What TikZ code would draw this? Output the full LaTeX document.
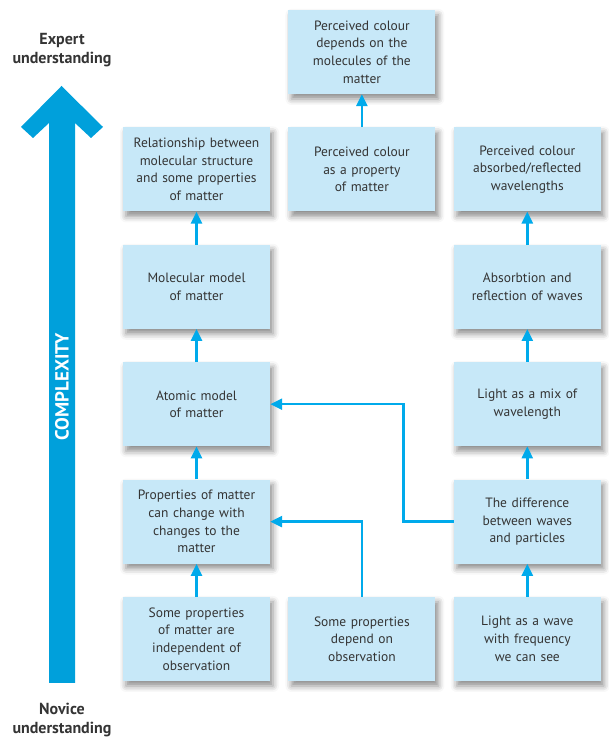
\documentclass[tikz,border=0pt]{standalone}
\usepackage{fontspec}
\setmainfont{PT Sans}
\usepackage{xcolor}
\usepackage{tikz}
\usetikzlibrary{positioning, arrows.meta, shadows.blur}
\definecolor{boxblue}{RGB}{199,232,248}
\definecolor{linkblue}{RGB}{0,170,235}
\definecolor{bigblue}{RGB}{0,160,219}
\definecolor{txtgray}{RGB}{52,52,52}
\tikzstyle{conceptbox} = [rectangle, minimum width=147pt, minimum height=84pt, text width=139pt, inner sep=4pt, align=center, fill=boxblue, text=txtgray, font=\fontsize{13.5}{17.7}\selectfont, blur shadow={shadow xshift=3pt, shadow yshift=-5pt, shadow blur radius=6pt, shadow opacity=45}]
\tikzstyle{endlabel} = [align=center, text=txtgray, font=\fontsize{16}{19}\selectfont\bfseries]
\tikzstyle{arrow} = [line width=2.5pt, draw=linkblue, -{Triangle[length=12pt,width=11pt]}]

\begin{document}
\begin{tikzpicture}[x=1pt, y=1pt, node distance=33pt and 18pt]
		\useasboundingbox (0,0) rectangle (608,738);
		% complexity arrow on the left
		\fill [bigblue] (61.5,652) -- (103,611) -- (91,600) -- (75,615) -- (75,55) -- (49,55) -- (49,615) -- (33,600) -- (21,611) -- cycle;
		\node (cplx) [rotate=90, text=white, font=\fontsize{19}{19}\selectfont\bfseries] at (62,351) {COMPLEXITY};
		\node (expert) [endlabel] at (62,688) {Expert\\understanding};
		\node (novice) [endlabel] at (62,18) {Novice\\understanding};
		% concept boxes
		\node (indep) [conceptbox] at (196.5,99) {Some properties\\of matter are\\independent of\\observation};
		\node (obs) [conceptbox, right=of indep] {Some properties\\depend on\\observation};
		\node (wave) [conceptbox, right=of obs] {Light as a wave\\with frequency\\we can see};
		\node (props) [conceptbox, above=of indep] {Properties of matter\\can change with\\changes to the\\matter};
		\node (atom) [conceptbox, above=of props] {Atomic model\\of matter};
		\node (mol) [conceptbox, above=of atom] {Molecular model\\of matter};
		\node (rel) [conceptbox, above=of mol] {Relationship between\\molecular structure\\and some properties\\of matter};
		\node (colprop) [conceptbox, right=of rel] {Perceived colour\\as a property\\of matter};
		\node (colmol) [conceptbox, above=of colprop] {Perceived colour\\depends on the\\molecules of the\\matter};
		\node (diff) [conceptbox, above=of wave] {The difference\\between waves\\and particles};
		\node (mix) [conceptbox, above=of diff] {Light as a mix of\\wavelength};
		\node (absorb) [conceptbox, above=of mix] {Absorbtion and\\reflection of waves};
		\node (colabs) [conceptbox, above=of absorb] {Perceived colour\\absorbed/reflected\\wavelengths};
		% links
		\draw [arrow] (indep) -- (props);
		\draw [arrow] (props) -- (atom);
		\draw [arrow] (atom) -- (mol);
		\draw [arrow] (mol) -- (rel);
		\draw [arrow] (colprop) -- (colmol);
		\draw [arrow] (obs) |- (props);
		\draw [arrow] (wave) -- (diff);
		\draw [arrow] (diff) -- (mix);
		\draw [arrow] (mix) -- (absorb);
		\draw [arrow] (absorb) -- (colabs);
		\draw [arrow] (diff.west) -- ([xshift=-50pt]diff.west) |- (atom.east);
	\end{tikzpicture}
\end{document}
